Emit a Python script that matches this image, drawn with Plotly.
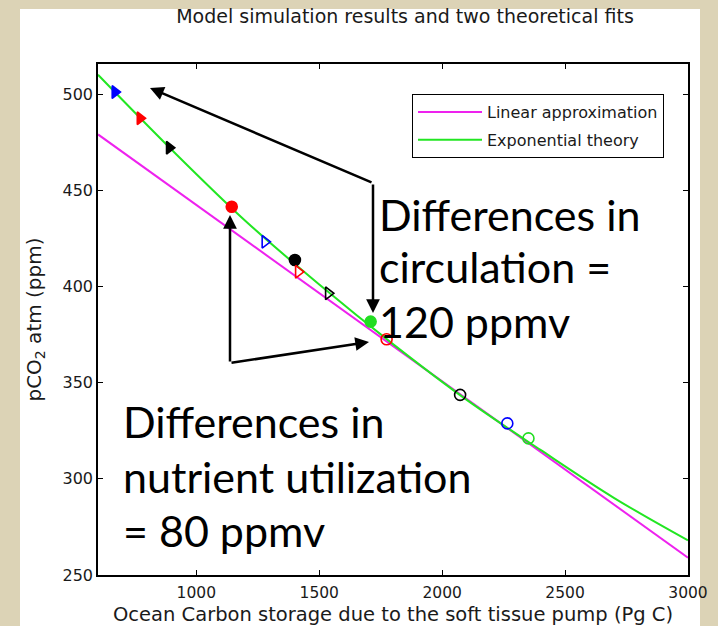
import plotly.graph_objects as go

# ---------------- data ----------------
lin_x = [600, 3000]
lin_y = [479, 259]

exp_x = [600, 900, 1200, 1500, 1800, 2100, 2400, 2700, 3000]
exp_y = [510, 471, 434, 401, 370, 341, 315, 290, 268]

pt_x = [669, 771, 890, 1144, 1279, 1401, 1415, 1537, 1709, 1774, 2073, 2265, 2351]
pt_y = [501.0, 487.4, 472.1, 441.4, 423.2, 413.7, 407.6, 396.4, 381.7, 372.5, 343.6, 328.8, 321.0]
pt_color = ["#0000ff", "#ff0000", "#000000", "#ff0000", "#0000ff", "#000000", "#ff0000",
            "#000000", "#22dd22", "#ff0000", "#000000", "#0000ff", "#22dd22"]
pt_symbol = ["triangle-right", "triangle-right", "triangle-right", "circle", "triangle-right-open",
             "circle", "triangle-right-open", "triangle-right-open", "circle", "circle-open",
             "circle-open", "circle-open", "circle-open"]

x_ticks = [1000, 1500, 2000, 2500, 3000]
y_ticks = [250, 300, 350, 400, 450, 500]

# ---------------- layout geometry ----------------
W, H = 718, 626
L, R, T, B = 98, 30, 64, 51
XR = [600, 3000]
YR = [250, 515.6]
PW, PH = W - L - R, H - T - B


def px2x(px):
    return XR[0] + (px - L) / PW * (XR[1] - XR[0])


def px2y(py):
    return YR[0] + (H - B - py) / PH * (YR[1] - YR[0])


def pxp(px):
    return (px - L) / PW


def pyp(py):
    return (H - B - py) / PH


BEIGE = "#dcd3b6"
AXFONT = "DejaVu Sans"
TXT = "#1a1a1a"

fig = go.Figure()

fig.add_trace(go.Scatter(x=lin_x, y=lin_y, mode="lines", name="Linear approximation",
                         legendgroup="a",
                         line=dict(color="#ee22ee", width=2)))
fig.add_trace(go.Scatter(x=exp_x, y=exp_y, mode="lines", name="Exponential theory",
                         legendgroup="b",
                         line=dict(color="#22e622", width=2, shape="spline")))
fig.add_trace(go.Scatter(x=pt_x, y=pt_y, mode="markers", showlegend=False,
                         marker=dict(symbol=pt_symbol, color=pt_color, size=11,
                                     line=dict(color=pt_color, width=1.6))))

shapes = [
    dict(type="rect", xref="paper", yref="paper", layer="below",
         x0=pxp(20), x1=pxp(700), y0=pyp(9), y1=pyp(H + 5),
         fillcolor="white", line=dict(width=0)),
]

annotations = []

# arrows (from corner points toward the markers)
arrow_defs = [
    ((373, 183), (150, 88)),
    ((373, 183), (373, 313)),
    ((230, 363), (230, 215)),
    ((230, 363), (369, 342)),
]
for (cx, cy), (tx, ty) in arrow_defs:
    annotations.append(dict(x=px2x(tx), y=px2y(ty), ax=px2x(cx), ay=px2y(cy),
                            xref="x", yref="y", axref="x", ayref="y", text="",
                            showarrow=True, arrowhead=2, arrowsize=1.1,
                            arrowwidth=2.5, arrowcolor="black", standoff=0))

# big explanatory text
text_lines = [
    ("Differences in", 377, 214),
    ("circulation =", 377, 266),
    ("120 ppmv", 377, 321),
    ("Differences in", 121, 421),
    ("nutrient utilization", 121, 476),
    ("= 80 ppmv", 121, 530),
]
for txt, lx, cy in text_lines:
    annotations.append(dict(x=pxp(lx), y=pyp(cy), xref="paper", yref="paper",
                            text=txt, showarrow=False, xanchor="left", yanchor="middle",
                            font=dict(family="Lato", size=43, color="black")))

# x-axis title placed explicitly
annotations.append(dict(x=0.5, y=pyp(614), xref="paper", yref="paper",
                        text="Ocean Carbon storage due to the soft tissue pump (Pg C)",
                        showarrow=False, xanchor="center", yanchor="middle", borderpad=0,
                        font=dict(family=AXFONT, size=19.5, color=TXT)))

fig.update_layout(
    width=W, height=H,
    margin=dict(l=L, r=R, t=T, b=B, pad=0, autoexpand=False),
    paper_bgcolor=BEIGE, plot_bgcolor="white",
    title=dict(text="Model simulation results and two theoretical fits",
               x=405 / W, xref="container", xanchor="center",
               y=1 - 16 / H, yanchor="middle",
               font=dict(family=AXFONT, size=19, color=TXT)),
    font=dict(family=AXFONT, color=TXT),
    xaxis=dict(range=XR, tickvals=x_ticks, ticks="inside", ticklen=5, tickwidth=1,
               tickcolor="black", showline=True, linecolor="black", linewidth=1.5,
               mirror="ticks", showgrid=False, zeroline=False, ticklabelstandoff=3,
               automargin=False,
               tickfont=dict(family=AXFONT, size=15.5, color=TXT)),
    yaxis=dict(range=YR, tickvals=y_ticks, ticks="inside", ticklen=5, tickwidth=1,
               tickcolor="black", showline=True, linecolor="black", linewidth=1.5,
               mirror="ticks", showgrid=False, zeroline=False, automargin=False,
               tickfont=dict(family=AXFONT, size=16, color=TXT),
               title=dict(text="pCO<sub>2</sub> atm (ppm)",
                          font=dict(family=AXFONT, size=20, color=TXT), standoff=16)),
    legend=dict(x=pxp(412), y=pyp(94), xanchor="left", yanchor="top",
                bgcolor="white", bordercolor="black", borderwidth=1,
                font=dict(family=AXFONT, size=16, color=TXT),
                itemwidth=64, tracegroupgap=4, traceorder="grouped"),
    shapes=shapes,
    annotations=annotations,
)

fig.write_html("out.html")
